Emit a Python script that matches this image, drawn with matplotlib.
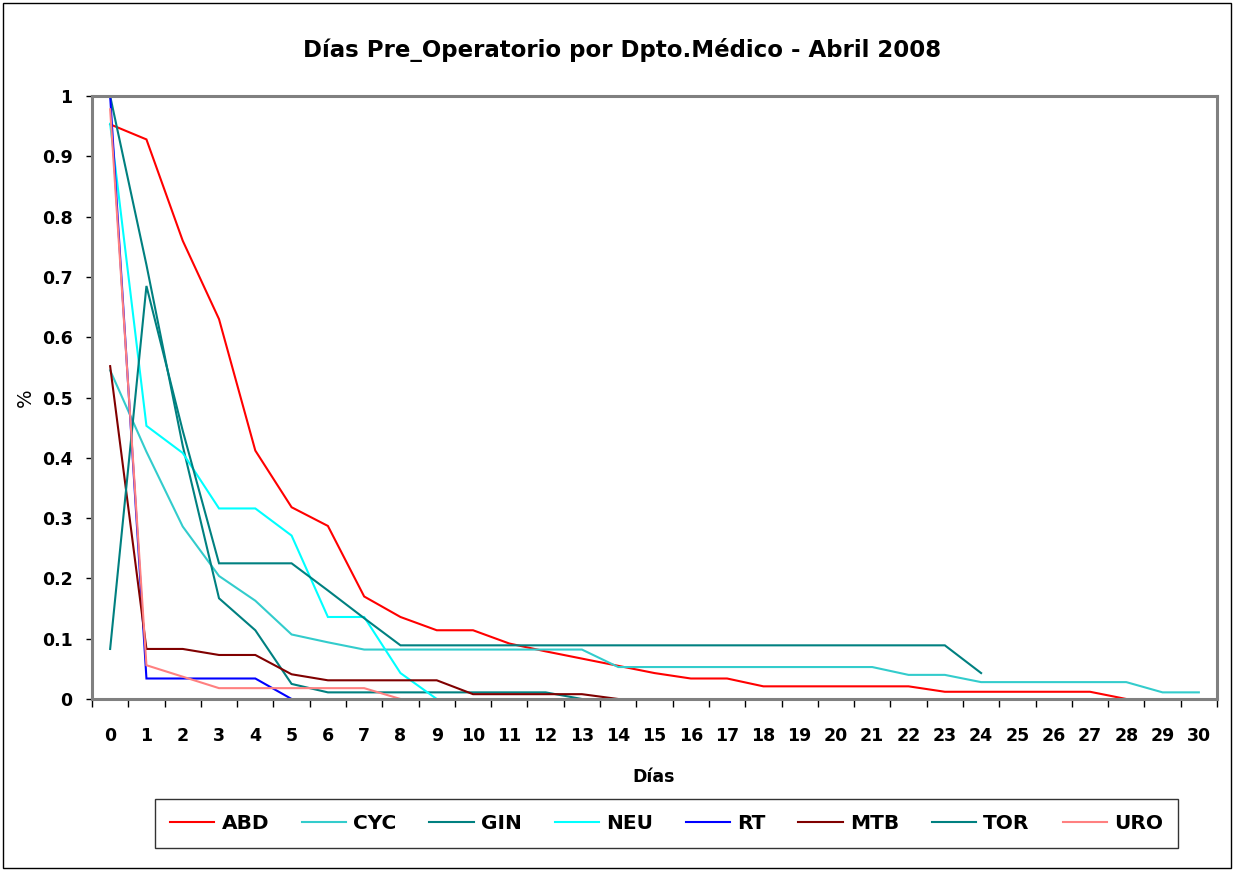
import matplotlib
matplotlib.use("Agg")
import matplotlib.pyplot as plt
import numpy as np
from matplotlib.patches import Rectangle
from matplotlib.lines import Line2D

# ---- data ----
days = [str(d) for d in range(31)]
ABD = [0.953, 0.928, 0.76, 0.63, 0.412, 0.318, 0.287, 0.170, 0.136, 0.114, 0.114, 0.092, 0.079,
       0.067, 0.055, 0.043, 0.034, 0.034, 0.021, 0.021, 0.021, 0.021, 0.021, 0.012, 0.012,
       0.012, 0.012, 0.012, 0.0]
CYC = [0.545, 0.41, 0.286, 0.204, 0.163, 0.107, 0.094, 0.082, 0.082, 0.082, 0.082, 0.082,
       0.082, 0.082, 0.053, 0.053, 0.053, 0.053, 0.053, 0.053, 0.053, 0.053, 0.040, 0.040,
       0.028, 0.028, 0.028, 0.028, 0.028, 0.011, 0.011]
GIN = [1.0, 0.72, 0.42, 0.167, 0.114, 0.025, 0.011, 0.011, 0.011, 0.011, 0.011, 0.011, 0.011, 0.0]
NEU = [0.954, 0.453, 0.408, 0.316, 0.316, 0.271, 0.136, 0.136, 0.043, 0.0]
RT = [1.0, 0.034, 0.034, 0.034, 0.034, 0.0]
MTB = [0.552, 0.083, 0.083, 0.073, 0.073, 0.041, 0.031, 0.031, 0.031, 0.031, 0.008, 0.008,
       0.008, 0.008, 0.0]
TOR = [0.083, 0.685, 0.445, 0.225, 0.225, 0.225, 0.18, 0.134, 0.089, 0.089, 0.089, 0.089,
       0.089, 0.089, 0.089, 0.089, 0.089, 0.089, 0.089, 0.089, 0.089, 0.089, 0.089, 0.089, 0.043]
URO = [0.978, 0.056, 0.037, 0.018, 0.018, 0.018, 0.018, 0.018, 0.0]

series_names = ["ABD", "CYC", "GIN", "NEU", "RT", "MTB", "TOR", "URO"]
series_values = [ABD, CYC, GIN, NEU, RT, MTB, TOR, URO]
series_colors = ["#FF0000", "#33CCCC", "#008080", "#00FFFF", "#0000FF", "#800000", "#008080", "#FF8080"]

y_ticks = [round(0.1 * i, 1) for i in range(11)]
y_ticklabels = ["0", "0.1", "0.2", "0.3", "0.4", "0.5", "0.6", "0.7", "0.8", "0.9", "1"]

title = "Días Pre_Operatorio por Dpto.Médico - Abril 2008"

# ---- figure ----
W, H = 1234, 871
fig = plt.figure(figsize=(W / 100, H / 100), dpi=100)
fig.patch.set_facecolor("white")
FONT = "DejaVu Sans"

# chart-area border
fig.patches.append(Rectangle((3 / W, 3 / H), (1231 - 3) / W, (868 - 3) / H,
                             transform=fig.transFigure, fill=False, edgecolor="black",
                             linewidth=1.0, zorder=0))

L, R, T, B = 92, 1217, 96, 699
ax = fig.add_axes([L / W, 1 - B / H, (R - L) / W, (B - T) / H])

for name, vals, col in zip(series_names, series_values, series_colors):
    x = np.arange(len(vals))
    ax.plot(x, vals, color=col, linewidth=1.5, label=name, solid_joinstyle="miter")

n = len(days)
ax.set_xlim(-0.5, n - 0.5)
ax.set_ylim(0, 1)

# category axis: tick marks between categories, labels at centers
ax.set_xticks(np.arange(-0.5, n, 1.0))
ax.set_xticklabels([])
ax.set_xticks(np.arange(n), minor=True)
ax.set_xticklabels(days, minor=True, fontsize=12.5, fontweight="bold", family=FONT)
ax.tick_params(axis="x", which="major", direction="out", length=6, width=1, color="black")
ax.tick_params(axis="x", which="minor", length=0, pad=20.5)

ax.set_yticks(y_ticks)
ax.set_yticklabels(y_ticklabels, fontsize=12.5, fontweight="bold", family=FONT)
ax.tick_params(axis="y", direction="out", length=4, width=1, color="black", pad=10)

for s in ax.spines.values():
    s.set_color("#808080")
    s.set_linewidth(2.2)

fig.text(622 / W, 1 - 50 / H, title, ha="center", va="center", fontsize=16.5,
         fontweight="bold", family=FONT)
fig.text(654 / W, 1 - 777 / H, "Días", ha="center", va="center", fontsize=12.5,
         fontweight="bold", family=FONT)
fig.text(25 / W, 1 - 398 / H, "%", ha="center", va="center", rotation=90, fontsize=14,
         family=FONT)

handles = [Line2D([], [], color=c, linewidth=1.5) for c in series_colors]
leg = fig.legend(handles, series_names, ncol=8, mode="expand", loc="center",
                 bbox_to_anchor=(155 / W, 1 - 847 / H, (1178 - 155) / W, 47 / H),
                 frameon=True, fancybox=False, edgecolor="black", borderaxespad=0,
                 handlelength=2.2, handletextpad=0.35, borderpad=0.75,
                 prop={"family": FONT, "weight": "bold", "size": 14.5})
leg.get_frame().set_linewidth(1.0)

fig.savefig("out.png", dpi=100)
